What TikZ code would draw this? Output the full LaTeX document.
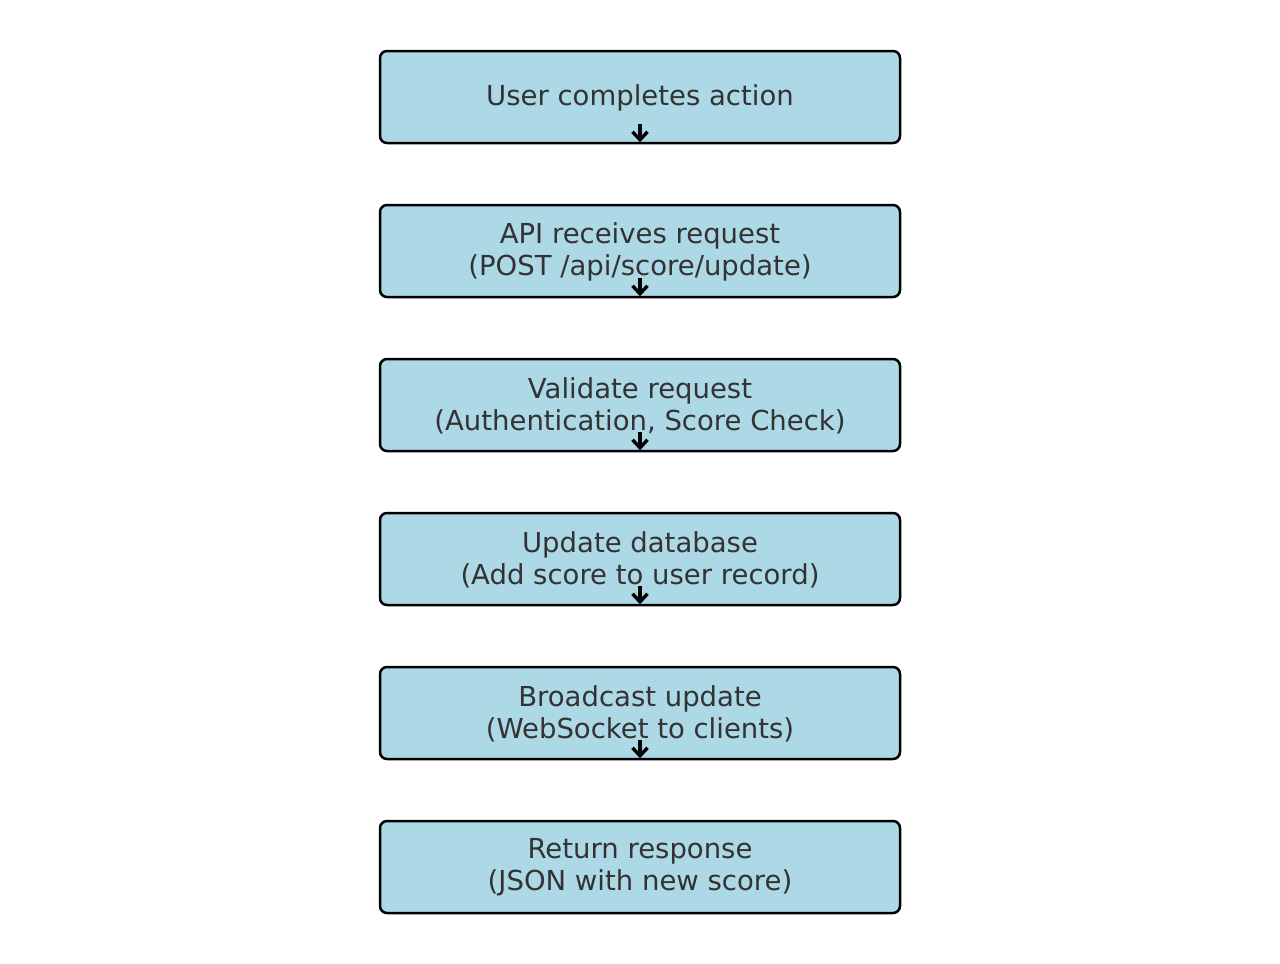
\documentclass[tikz,border=0pt]{standalone}
\usepackage{fontspec}
\setmainfont{DejaVu Sans}
\usetikzlibrary{arrows.meta}
\definecolor{boxfill}{HTML}{ADD8E6}
\definecolor{txt}{HTML}{333333}
\begin{document}
\begin{tikzpicture}[x=1pt,y=-1pt,
  stepbox/.style={draw=black, line width=2.5pt, fill=boxfill, rounded corners=7pt,
    minimum width=520pt, minimum height=92pt, inner sep=0pt},
  steptext/.style={inner sep=0pt, align=center, text=txt, font=\fontsize{27.5}{32}\selectfont},
  flow/.style={draw=black, line width=3.4pt, -{Straight Barb[length=8pt,width=15pt,line width=3.4pt]}}]
\useasboundingbox (0,0) rectangle (1280,964);
\foreach \i/\y/\t in {1/97/{User completes action},
  2/251/{API receives request\\(POST /api/score/update)},
  3/405/{Validate request\\(Authentication, Score Check)},
  4/559/{Update database\\(Add score to user record)},
  5/713/{Broadcast update\\(WebSocket to clients)},
  6/867/{Return response\\(JSON with new score)}}{
  \node[stepbox] (b\i) at (640,\y) {};
  \node[steptext] (t\i) at ([yshift=-0.5pt]b\i.center) {\t};
}
\foreach \i in {1,...,5}{
  \coordinate (s\i) at ([yshift=20pt]b\i.south);
  \draw[flow] (s\i) -- ([yshift=2pt]b\i.south);
}
\end{tikzpicture}
\end{document}
